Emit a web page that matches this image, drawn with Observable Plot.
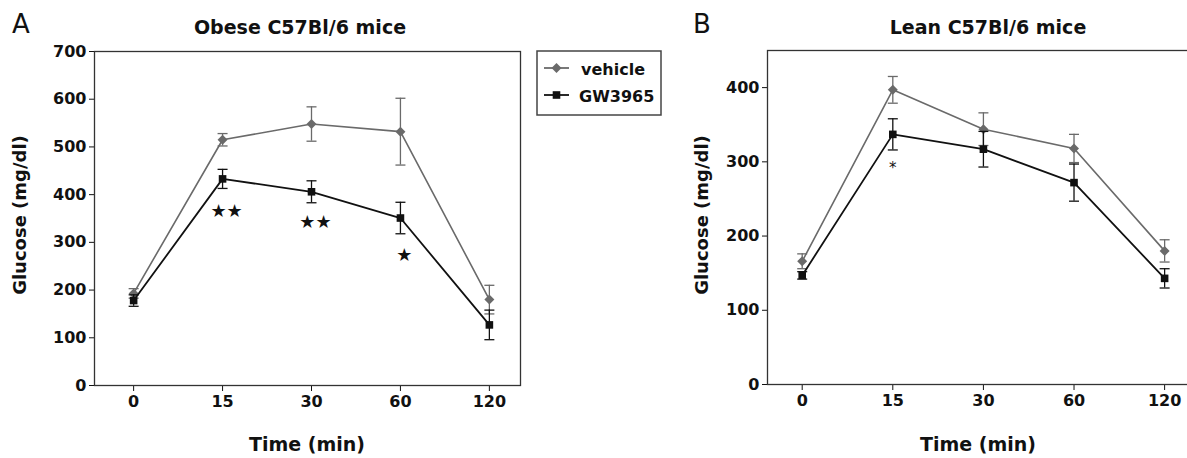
<!DOCTYPE html>
<html><head><meta charset="utf-8">
<script src="https://cdn.jsdelivr.net/npm/d3@7"></script>
<script src="https://cdn.jsdelivr.net/npm/@observablehq/plot@0.6"></script>
<style>
html,body{margin:0;padding:0;background:#fff;}
#wrap{position:relative;width:1187px;height:458px;overflow:hidden;}
#wrap svg{position:absolute;top:0;}
</style></head><body><div id="wrap"></div>
<script>
// ---- data ----
const timeLabels = ["0", "15", "30", "60", "120"];
const seriesNames = ["vehicle", "GW3965"];
const obeseVehicle = [193, 515, 548, 532, 180];
const obeseVehicleErr = [10, 13, 36, 70, 30];
const obeseGW = [178, 433, 406, 351, 127];
const obeseGWErr = [12, 20, 23, 33, 31];
const leanVehicle = [166, 397, 344, 318, 180];
const leanVehicleErr = [10, 18, 22, 19, 15];
const leanGW = [147, 337, 317, 272, 143];
const leanGWErr = [5, 21, 24, 25, 13];
const obeseSigIndex = [1, 2, 3];
const obeseSigText = ["★★", "★★", "★"];
const obeseSigY = [367, 344, 276];
const leanSigIndex = [1];
const leanSigText = ["*"];
const leanSigY = [297];
const yTicksObese = [0, 100, 200, 300, 400, 500, 600, 700];
const yTicksLean = [0, 100, 200, 300, 400];
const panelTitles = ["Obese C57Bl/6 mice", "Lean C57Bl/6 mice"];
const panelLetters = ["A", "B"];
const xTitle = "Time (min)";
const yTitle = "Glucose (mg/dl)";

const colVeh = "#6a6a6a", colGW = "#111111";

const rowsOf = (v, e) => v.map((val, i) => ({i, v: val, e: e[i]}));

const capSymbol = {draw(ctx, size) {const r = Math.sqrt(size / Math.PI); ctx.moveTo(-r, 0); ctx.lineTo(r, 0);}};
const diamondSymbol = {draw(ctx, size) {const r = Math.sqrt(size / Math.PI); ctx.moveTo(0, -r); ctx.lineTo(r, 0); ctx.lineTo(0, r); ctx.lineTo(-r, 0); ctx.closePath();}};
const squareSymbol = {draw(ctx, size) {const r = Math.sqrt(size / Math.PI); ctx.rect(-r, -r, 2 * r, 2 * r);}};

function seriesMarks(rows, color, symbol, r, lw) {
  return [
    Plot.ruleX(rows, {x: "i", y1: d => d.v - d.e, y2: d => d.v + d.e, stroke: color, strokeWidth: 1.3}),
    Plot.dot(rows, {x: "i", y: d => d.v + d.e, symbol: capSymbol, r: 5, stroke: color, strokeWidth: 1.3, fill: "none"}),
    Plot.dot(rows, {x: "i", y: d => d.v - d.e, symbol: capSymbol, r: 5, stroke: color, strokeWidth: 1.3, fill: "none"}),
    Plot.line(rows, {x: "i", y: "v", stroke: color, strokeWidth: lw}),
    Plot.dot(rows, {x: "i", y: "v", symbol, r, fill: color, stroke: "none"})
  ];
}

function panel(o) {
  const sig = o.sigIndex.map((i, k) => ({i, y: o.sigY[k], s: o.sigText[k]}));
  return Plot.plot({
    width: o.width, height: 458,
    marginLeft: o.mL, marginRight: o.mR, marginTop: o.mT, marginBottom: o.mB,
    style: {fontFamily: "DejaVu Sans", fontSize: "16px", fontWeight: "bold", color: "#111", background: "transparent", overflow: "visible"},
    x: {type: "linear", domain: o.xDomain, ticks: [0, 1, 2, 3, 4], tickFormat: i => timeLabels[i], tickSize: 6, tickPadding: 4, label: null},
    y: {domain: o.yDomain, ticks: o.yTicks, tickSize: 5, tickPadding: 3, label: null},
    marks: [
      Plot.frame({stroke: "#333", strokeWidth: 1.3}),
      ...seriesMarks(o.veh, colVeh, diamondSymbol, 5, 1.6),
      ...seriesMarks(o.gw, colGW, squareSymbol, 3.8, 1.8),
      Plot.text(sig, {x: "i", y: "y", text: "s", fontSize: o.sigSize, fontWeight: "normal", dx: o.sigDx, dy: o.sigDy, fill: "#111"})
    ]
  });
}

const wrap = document.getElementById("wrap");

const plotA = panel({
  width: 560, mL: 94, mR: 40, mT: 51, mB: 73,
  xDomain: [-0.44, 4.35], yDomain: [0, 700], yTicks: yTicksObese,
  veh: rowsOf(obeseVehicle, obeseVehicleErr), gw: rowsOf(obeseGW, obeseGWErr),
  sigIndex: obeseSigIndex, sigText: obeseSigText, sigY: obeseSigY, sigSize: 18, sigDx: 4, sigDy: 1
});
plotA.style.left = "0px";
wrap.appendChild(plotA);

const plotB = panel({
  width: 520, mL: 77, mR: 10, mT: 50, mB: 74,
  xDomain: [-0.383, 4.396], yDomain: [0, 450], yTicks: yTicksLean,
  veh: rowsOf(leanVehicle, leanVehicleErr), gw: rowsOf(leanGW, leanGWErr),
  sigIndex: leanSigIndex, sigText: leanSigText, sigY: leanSigY, sigSize: 15, sigDx: 0, sigDy: 4
});
plotB.style.left = "690px";
wrap.appendChild(plotB);

// ---- overlay texts & legend ----
const ov = d3.select(wrap).append("svg").attr("width", 1187).attr("height", 458)
  .style("left", "0px").style("font-family", "DejaVu Sans").attr("fill", "#111");
const letters = [{x: 12, t: panelLetters[0]}, {x: 693, t: panelLetters[1]}];
ov.selectAll("text.letter").data(letters).join("text").attr("class", "letter")
  .attr("x", d => d.x).attr("y", 33).attr("font-size", 26).text(d => d.t);
const titles = [{x: 300, t: panelTitles[0]}, {x: 988, t: panelTitles[1]}];
ov.selectAll("text.title").data(titles).join("text").attr("class", "title")
  .attr("x", d => d.x).attr("y", 34).attr("font-size", 19).attr("font-weight", "bold")
  .attr("text-anchor", "middle").text(d => d.t);
const xt = [{x: 307}, {x: 978}];
ov.selectAll("text.xt").data(xt).join("text").attr("class", "xt")
  .attr("x", d => d.x).attr("y", 451).attr("font-size", 19).attr("font-weight", "bold")
  .attr("text-anchor", "middle").text(xTitle);
const yt = [{x: 26}, {x: 708}];
ov.selectAll("text.yt").data(yt).join("text").attr("class", "yt")
  .attr("transform", d => `translate(${d.x},215) rotate(-90)`).attr("font-size", 18).attr("font-weight", "bold")
  .attr("text-anchor", "middle").text(yTitle);

// legend
const lg = ov.append("g");
lg.append("rect").attr("x", 537).attr("y", 51).attr("width", 124).attr("height", 64)
  .attr("fill", "#fff").attr("stroke", "#444").attr("stroke-width", 1.5);
const legendItems = [
  {name: seriesNames[0], y: 68, ty: 75, color: colVeh, sym: "d", tx: 581},
  {name: seriesNames[1], y: 95, ty: 102, color: colGW, sym: "s", tx: 579}
];
legendItems.forEach(it => {
  lg.append("line").attr("x1", 544).attr("x2", 569).attr("y1", it.y).attr("y2", it.y)
    .attr("stroke", it.color).attr("stroke-width", 1.8);
  if (it.sym === "d") {
    lg.append("path").attr("d", `M556.5,${it.y - 5}L561.5,${it.y}L556.5,${it.y + 5}L551.5,${it.y}Z`).attr("fill", it.color);
  } else {
    lg.append("rect").attr("x", 552.7).attr("y", it.y - 3.8).attr("width", 7.6).attr("height", 7.6).attr("fill", it.color);
  }
  lg.append("text").attr("x", it.tx).attr("y", it.ty).attr("font-size", 16).attr("font-weight", "bold").text(it.name);
});
</script>
</body></html>
